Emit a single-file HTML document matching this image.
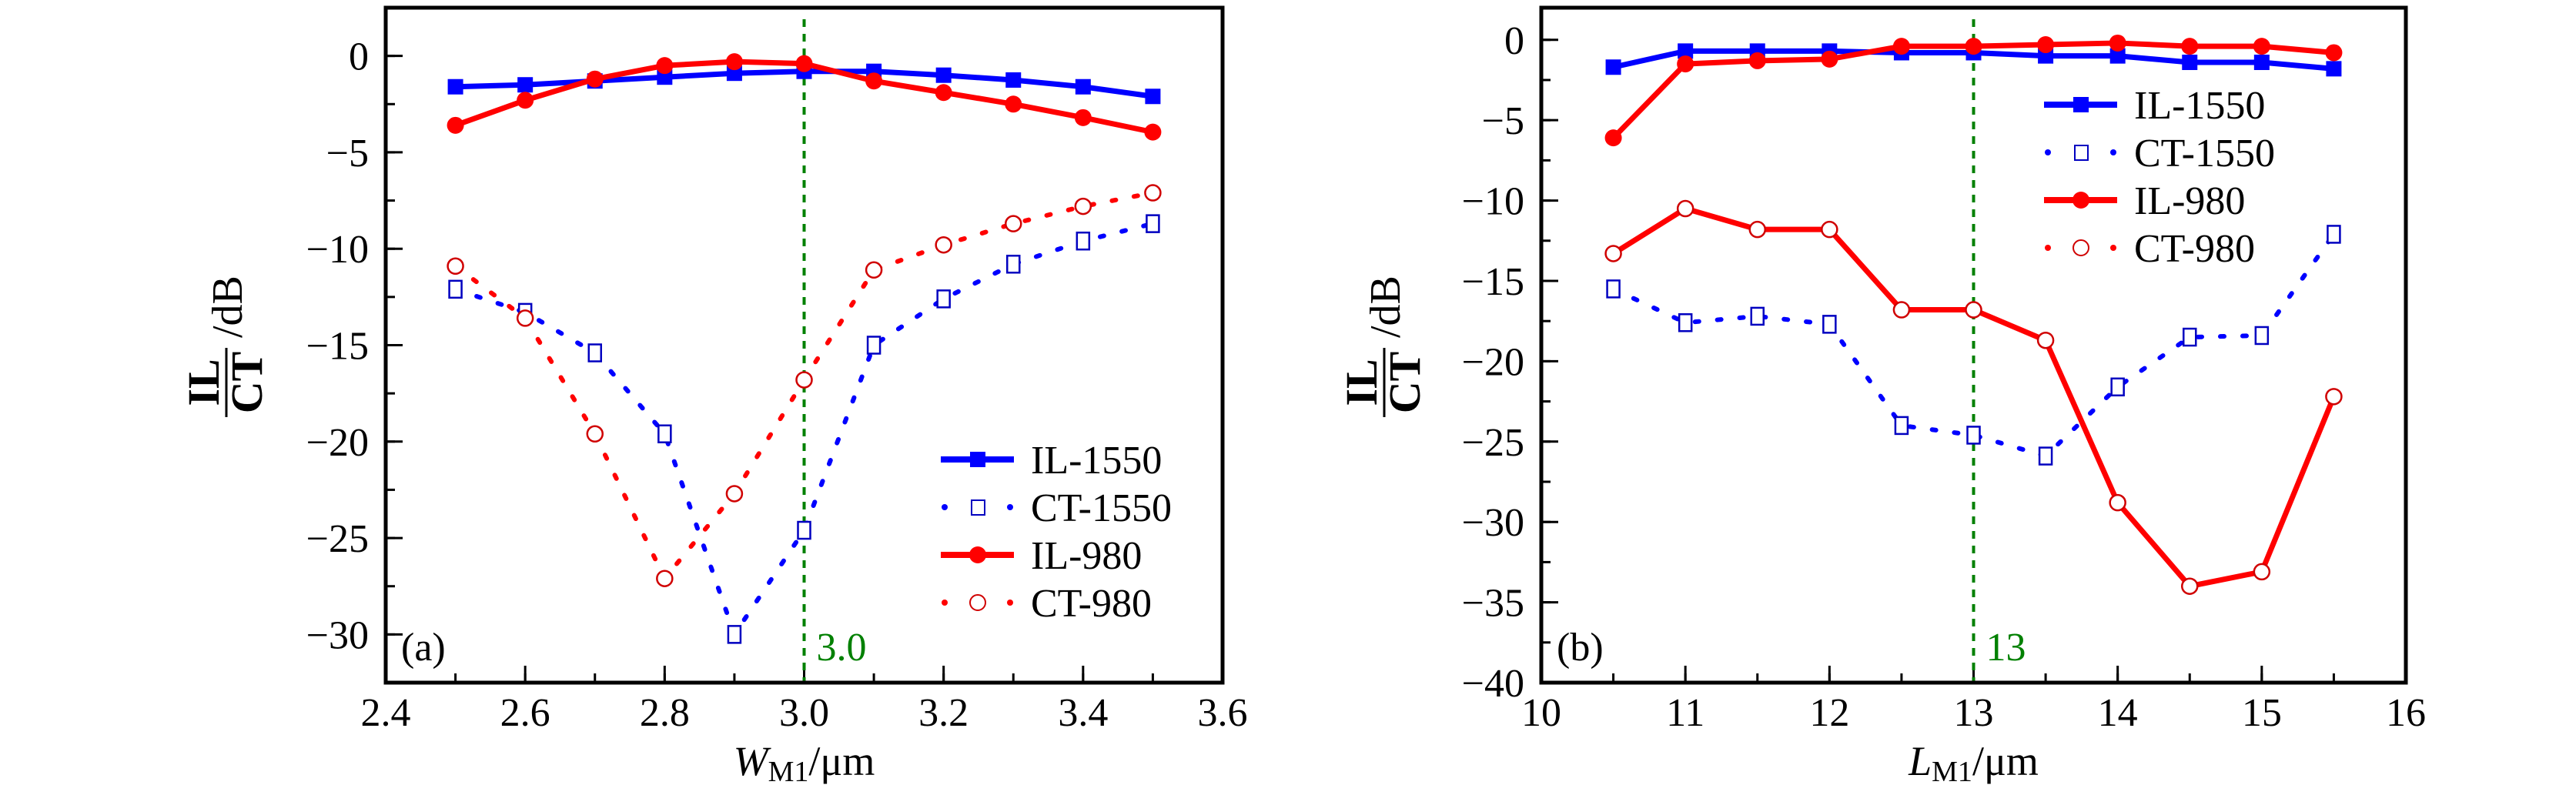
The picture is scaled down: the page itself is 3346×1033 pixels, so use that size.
<!DOCTYPE html>
<html><head><meta charset="utf-8"><style>
html,body{margin:0;padding:0;background:#fff;}
svg{display:block;font-family:"Liberation Serif",serif;}
</style></head><body>
<svg id="fig" width="3346" height="1033" viewBox="0 0 3346 1033" xmlns="http://www.w3.org/2000/svg"></svg>
<script>
// Panel (a)
const xA = [2.5,2.6,2.7,2.8,2.9,3.0,3.1,3.2,3.3,3.4,3.5];
const ilA1550 = [-1.6,-1.5,-1.3,-1.1,-0.9,-0.8,-0.8,-1.0,-1.25,-1.6,-2.1];
const ctA1550 = [-12.1,-13.3,-15.4,-19.6,-30,-24.6,-15,-12.6,-10.8,-9.6,-8.7];
const ilA980 = [-3.6,-2.3,-1.2,-0.5,-0.3,-0.4,-1.3,-1.9,-2.5,-3.2,-3.95];
const ctA980 = [-10.9,-13.6,-19.6,-27.1,-22.7,-16.8,-11.1,-9.8,-8.7,-7.8,-7.1];
const xTicksA = [2.4,2.6,2.8,3.0,3.2,3.4,3.6];
const xTickLabelsA = ["2.4","2.6","2.8","3.0","3.2","3.4","3.6"];
const yTicksA = [0,-5,-10,-15,-20,-25,-30];
// Panel (b)
const xB = [10.5,11,11.5,12,12.5,13,13.5,14,14.5,15,15.5];
const ilB1550 = [-1.7,-0.7,-0.7,-0.7,-0.8,-0.8,-1,-1,-1.4,-1.4,-1.8];
const ctB1550 = [-15.5,-17.6,-17.2,-17.7,-24,-24.6,-25.9,-21.6,-18.5,-18.4,-12.1];
const ilB980 = [-6.1,-1.5,-1.3,-1.2,-0.4,-0.4,-0.3,-0.2,-0.4,-0.4,-0.8];
const ctB980 = [-13.3,-10.5,-11.8,-11.8,-16.8,-16.8,-18.7,-28.8,-34,-33.1,-22.2];
const xTicksB = [10,11,12,13,14,15,16];
const xTickLabelsB = ["10","11","12","13","14","15","16"];
const yTicksB = [0,-5,-10,-15,-20,-25,-30,-35,-40];

const NS="http://www.w3.org/2000/svg";
const svg=document.getElementById('fig');
function mk(tag,attrs,parent,text){const e=document.createElementNS(NS,tag);for(const k in attrs)e.setAttribute(k,attrs[k]);if(text!==undefined)e.textContent=text;(parent||svg).appendChild(e);return e;}
const BLUE="#0000ff",RED="#ff0000",GREEN="#008000";

function panel(o){
  const g=mk('g',{});
  
  
  const X=v=>o.L+(v-o.x0)/(o.x1-o.x0)*(o.R-o.L);
  const Y=v=>o.T+(o.y1-v)/(o.y1-o.y0)*(o.B-o.T);
  for(let v=o.x0;v<=o.x1+1e-9;v+=o.xminor){const t=mk('line',{x1:X(v),x2:X(v),y1:o.B,y2:o.B-12,stroke:'#000','stroke-width':3},g);}
  for(let v=o.y0;v<=o.y1+1e-9;v+=2.5){const t=mk('line',{x1:o.L,x2:o.L+12,y1:Y(v),y2:Y(v),stroke:'#000','stroke-width':3},g);}
  o.xt.forEach((v,i)=>{
    const t=mk('line',{x1:X(v),x2:X(v),y1:o.B,y2:o.B-22,stroke:'#000','stroke-width':3},g);
    
    const l=mk('text',{x:X(v),y:943,'font-size':52,'text-anchor':'middle'},g,o.xl[i]);
    
  });
  o.yt.forEach(v=>{
    const t=mk('line',{x1:o.L,x2:o.L+22,y1:Y(v),y2:Y(v),stroke:'#000','stroke-width':3},g);
    
    const l=mk('text',{x:o.L-22,y:Y(v)+18,'font-size':52,'text-anchor':'end'},g,v<0?'\u2212'+(-v):String(v));
    
  });
  const vl=mk('line',{x1:X(o.vx),x2:X(o.vx),y1:o.T+15,y2:o.B,stroke:GREEN,'stroke-width':4,'stroke-dasharray':'10 9'},g);
  
  const vt=mk('text',{x:X(o.vx)+16,y:858,'font-size':52,fill:GREEN},g,o.vlabel);
  
  const pl=mk('text',{x:o.L+20,y:858,'font-size':52},g,o.plabel);
  
  o.series.forEach(s=>{
    const sg=mk('g',{},g);
    
    const pts=o.xs.map((x,i)=>X(x)+','+Y(s.v[i])).join(' ');
    const pa={points:pts,fill:'none',stroke:s.c,'stroke-width':s.dot?6:7,'stroke-linejoin':'round'};
    if(s.dot){pa['stroke-dasharray']='5 24';pa['stroke-linecap']='round';}
    const line=mk('polyline',pa,sg);
    
    o.xs.forEach((x,i)=>{
      const cx=X(x),cy=Y(s.v[i]);let m;
      if(s.m==='sq') m=mk('rect',{x:cx-10,y:cy-10,width:20,height:20,fill:s.c},sg);
      else if(s.m==='osq') m=mk('rect',{x:cx-8,y:cy-11,width:16,height:22,fill:'#fff',stroke:'#0000c0','stroke-width':2.5},sg);
      else if(s.m==='ci') m=mk('circle',{cx,cy,r:11,fill:s.c},sg);
      else m=mk('circle',{cx,cy,r:10,fill:'#fff',stroke:'#d00000','stroke-width':2.5},sg);
      
    });
  });
  const fr=mk('rect',{x:o.L,y:o.T,width:o.R-o.L,height:o.B-o.T,fill:'none',stroke:'#000','stroke-width':5},g);
  
  const lg=mk('g',{},g);
  const names=['IL-1550','CT-1550','IL-980','CT-980'];
  o.series.forEach((s,i)=>{
    const y=o.ly+i*62, x0=o.lx, x1=o.lx+95, xm=o.lx+48;
    const e=mk('g',{},lg);
    if(s.lineLegendDot){mk('line',{x1:x0+5,x2:x0+5,y1:y,y2:y,stroke:s.c,'stroke-width':8,'stroke-linecap':'round'},e);mk('line',{x1:x1-5,x2:x1-5,y1:y,y2:y,stroke:s.c,'stroke-width':8,'stroke-linecap':'round'},e);}
    else mk('line',{x1:x0,x2:x1,y1:y,y2:y,stroke:s.c,'stroke-width':8},e);
    if(s.m==='sq') mk('rect',{x:xm-10,y:y-10,width:20,height:20,fill:s.c},e);
    else if(s.m==='osq') mk('rect',{x:xm-8,y:y-9,width:17,height:19,fill:'#fff',stroke:'#0000c0','stroke-width':2},e);
    else if(s.m==='ci') mk('circle',{cx:xm,cy:y,r:11,fill:s.c},e);
    else mk('circle',{cx:xm,cy:y,r:10,fill:'#fff',stroke:'#d00000','stroke-width':2},e);
    mk('text',{x:o.lx+117,y:y+18,'font-size':52},e,names[i]);
  });
  const xt=mk('text',{x:(o.L+o.R)/2,y:1007,'font-size':54,'text-anchor':'middle'},g);
  
  mk('tspan',{'font-style':'italic'},xt,o.xvar);
  mk('tspan',{'font-size':38,dy:8},xt,'M1');
  mk('tspan',{dy:-8},xt,'/\u03bcm');
  const yt=mk('g',{transform:`translate(${o.ylx},447) rotate(-90)`},g);
  
  mk('text',{x:-50,y:-10,'font-size':58,'font-weight':'bold','text-anchor':'middle'},yt,'IL');
  mk('line',{x1:-95,x2:-5,y1:0,y2:0,stroke:'#000','stroke-width':3},yt);
  mk('text',{x:-50,y:46,'font-size':58,'font-weight':'bold','text-anchor':'middle'},yt,'CT');
  mk('text',{x:8,y:20,'font-size':56,'text-anchor':'start'},yt,'/dB');
}
panel({name:'panel-a',L:501,R:1588,T:10,B:887,x0:2.4,x1:3.6,y0:-32.5,y1:2.5,xminor:0.1,
  xs:xA,xt:xTicksA,xl:xTickLabelsA,yt:yTicksA,vx:3.0,vlabel:'3.0',plabel:'(a)',xvar:'W',ylx:294,
  lx:1222,ly:597,
  series:[{id:'il-1550',v:ilA1550,c:BLUE,m:'sq'},{id:'ct-1550',v:ctA1550,c:BLUE,m:'osq',dot:true,lineLegendDot:true},
          {id:'il-980',v:ilA980,c:RED,m:'ci'},{id:'ct-980',v:ctA980,c:RED,m:'oc',dot:true,lineLegendDot:true}]});
panel({name:'panel-b',L:2002,R:3125,T:10,B:887,x0:10,x1:16,y0:-40,y1:2,xminor:0.5,
  xs:xB,xt:xTicksB,xl:xTickLabelsB,yt:yTicksB,vx:13,vlabel:'13',plabel:'(b)',xvar:'L',ylx:1798,
  lx:2655,ly:136,
  series:[{id:'il-1550',v:ilB1550,c:BLUE,m:'sq'},{id:'ct-1550',v:ctB1550,c:BLUE,m:'osq',dot:true,lineLegendDot:true},
          {id:'il-980',v:ilB980,c:RED,m:'ci'},{id:'ct-980',v:ctB980,c:RED,m:'oc',lineLegendDot:true}]});
</script>
</body></html>
